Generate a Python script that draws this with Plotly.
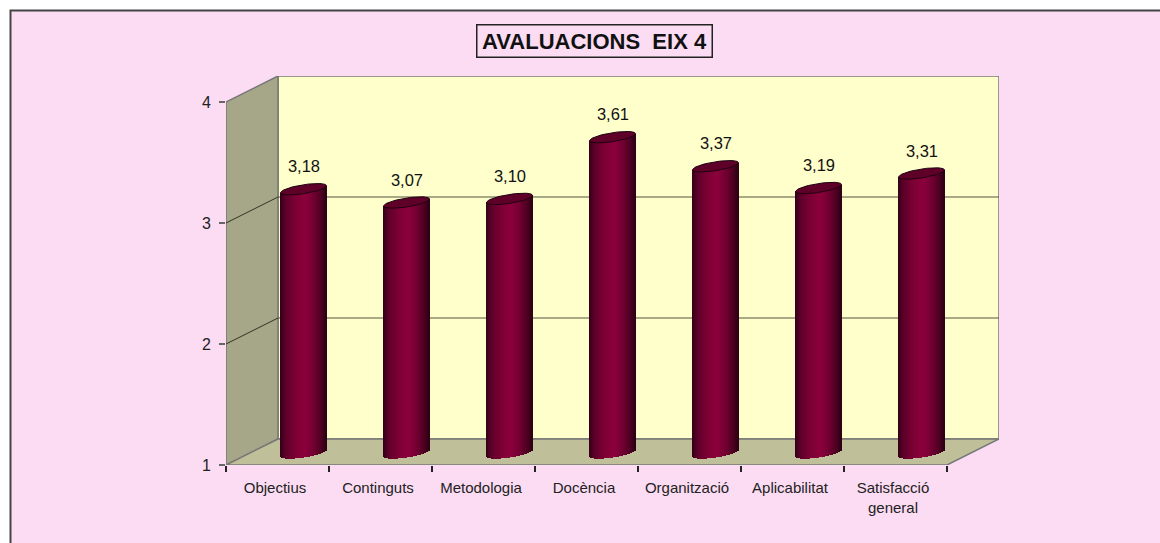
import numpy as np
import plotly.graph_objects as go

categories = ["Objectius", "Continguts", "Metodologia", "Docència", "Organització", "Aplicabilitat", "Satisfacció<br>general"]
values = [3.18, 3.07, 3.10, 3.61, 3.37, 3.19, 3.31]
value_labels = ["3,18", "3,07", "3,10", "3,61", "3,37", "3,19", "3,31"]
y_ticks = [1, 2, 3, 4]
title_text = "AVALUACIONS\u00a0\u00a0EIX 4"

W, H = 1160, 543
LEFT, RIGHT, TOP, BOTTOM = 226, 999, 76, 465
CAT_PX, UNIT_PX = 103.0, 121.0
DEPTH_X, DEPTH_Y = 52 / CAT_PX, 26 / UNIT_PX
SHIFT_X, SHIFT_Y = 26 / CAT_PX, 12 / UNIT_PX
RADIUS = 23 / CAT_PX
SKEW, MINOR = 3.5 / UNIT_PX, 4.5 / UNIT_PX
FONT = "Liberation Sans"
N_STRIPS = 46

x0, x1 = -0.5, 6.5
y0, y1 = 1, 4
xr = [x0, x1 + DEPTH_X]
yr = [y0, y1 + DEPTH_Y]

EDGE = "#777777"
shapes = [
    dict(type="rect", xref="paper", yref="paper", x0=0, x1=1, y0=0, y1=1,
         fillcolor="#FFFFFF", line_width=0, layer="below"),
    dict(type="rect", xref="paper", yref="paper", x0=10.5 / W, x1=1170 / W, y0=-0.05, y1=1 - 10.5 / H,
         fillcolor="#FCDCF3", line=dict(color="#444444", width=2), layer="below"),
]


def poly(points, fill, line=EDGE, width=1.5):
    path = "M " + " L ".join(f"{a},{b}" for a, b in points) + " Z"
    shapes.append(dict(type="path", path=path, xref="x", yref="y", fillcolor=fill,
                       line=dict(color=line, width=width), layer="below"))


# Back wall, side wall, floor
poly([(x0 + DEPTH_X, y0 + DEPTH_Y), (x0 + DEPTH_X, y1 + DEPTH_Y), (x1 + DEPTH_X, y1 + DEPTH_Y), (x1 + DEPTH_X, y0 + DEPTH_Y)], "#FFFFCC")
poly([(x0, y0), (x0, y1), (x0 + DEPTH_X, y1 + DEPTH_Y), (x0 + DEPTH_X, y0 + DEPTH_Y)], "#A6A688")
poly([(x0, y0), (x0 + DEPTH_X, y0 + DEPTH_Y), (x1 + DEPTH_X, y0 + DEPTH_Y), (x1, y0)], "#BFBF99")

# Gridlines across side and back walls
for t in y_ticks:
    if t in (2, 3):
        shapes.append(dict(type="line", xref="x", yref="y", x0=x0, y0=t, x1=x0 + DEPTH_X, y1=t + DEPTH_Y,
                           line=dict(color="#333322", width=1), layer="below"))
        shapes.append(dict(type="line", xref="x", yref="y", x0=x0 + DEPTH_X, y0=t + DEPTH_Y, x1=x1 + DEPTH_X, y1=t + DEPTH_Y,
                           line=dict(color="#555540", width=1.2), layer="below"))

fig = go.Figure()

# Cylinder bodies as thin shaded bars
u = (np.arange(N_STRIPS) + 0.5) / N_STRIPS * 2 - 1
stops_u = [-1.0, -0.75, -0.3, 0.1, 0.5, 0.8, 1.0]
stops_r = [50, 95, 125, 140, 110, 75, 45]
stops_b = [22, 42, 52, 60, 48, 32, 20]
strip_colors = [
    f"rgb({np.interp(a, stops_u, stops_r):.0f},0,{np.interp(a, stops_u, stops_b):.0f})"
    for a in u
]

for i, v in enumerate(values):
    cx = i + SHIFT_X
    bottom = y0 + SHIFT_Y + SKEW * u - MINOR * np.sqrt(1 - u ** 2)
    top = v + SHIFT_Y + SKEW * u
    fig.add_trace(go.Bar(x=cx + u * RADIUS, y=top - bottom, base=bottom, width=1.4 / CAT_PX,
                         marker=dict(color=strip_colors, line_width=0), showlegend=False, hoverinfo="skip"))
    # top cap
    t = np.linspace(0, 2 * np.pi, 73)
    fig.add_trace(go.Scatter(x=cx + RADIUS * np.cos(t),
                             y=v + SHIFT_Y + SKEW * np.cos(t) + MINOR * np.sin(t),
                             mode="lines", fill="toself", fillcolor="#5E0028",
                             line=dict(color="#1E0010", width=1), showlegend=False, hoverinfo="skip"))

# Value labels
fig.add_trace(go.Scatter(x=[i + SHIFT_X + 0.5 / CAT_PX for i in range(len(values))],
                         y=[v + SHIFT_Y + 21 / UNIT_PX for v in values],
                         text=value_labels, mode="text", textposition="middle center",
                         textfont=dict(family=FONT, size=16.5, color="#111111"),
                         showlegend=False, hoverinfo="skip"))

fig.update_layout(
    width=W, height=H, autosize=False,
    margin=dict(l=0, r=0, t=0, b=0, pad=0),
    paper_bgcolor="#FFFFFF", plot_bgcolor="rgba(0,0,0,0)",
    barmode="overlay", bargap=0,
    shapes=shapes,
    xaxis=dict(domain=[LEFT / W, RIGHT / W], range=xr, showgrid=False, zeroline=False, automargin=False,
               showline=False, tickmode="array",
               tickvals=[k - 2.5 / CAT_PX for k in range(len(categories))], ticktext=categories,
               ticks="", ticklabelstandoff=12, tickangle=0,
               tickfont=dict(family=FONT, size=15, color="#222222"),
               minor=dict(tickmode="array", tickvals=[x0 + k for k in range(8)], ticks="outside", ticklen=6,
                          tickcolor="#222222", tickwidth=1.5, showgrid=False)),
    yaxis=dict(domain=[1 - BOTTOM / H, 1 - TOP / H], range=yr, showgrid=False, zeroline=False, automargin=False,
               showline=False, tickmode="array", tickvals=y_ticks, ticktext=[str(k) for k in y_ticks],
               ticks="outside", ticklen=6, tickcolor="#666666", tickwidth=1.5, ticklabelstandoff=5,
               tickfont=dict(family=FONT, size=16, color="#222222")),
    annotations=[dict(text=f"<b>{title_text}</b>", xref="paper", yref="paper",
                      x=594 / W, y=1 - 41.5 / H, xanchor="center", yanchor="middle", showarrow=False,
                      width=234, height=31, align="center", bordercolor="#222222", borderwidth=1.5, borderpad=0,
                      font=dict(family=FONT, size=22, color="#111111"))],
)

fig.write_html("out.html", config=dict(displayModeBar=False),
               post_script="document.body.style.margin='0';document.documentElement.style.overflow='hidden';")
